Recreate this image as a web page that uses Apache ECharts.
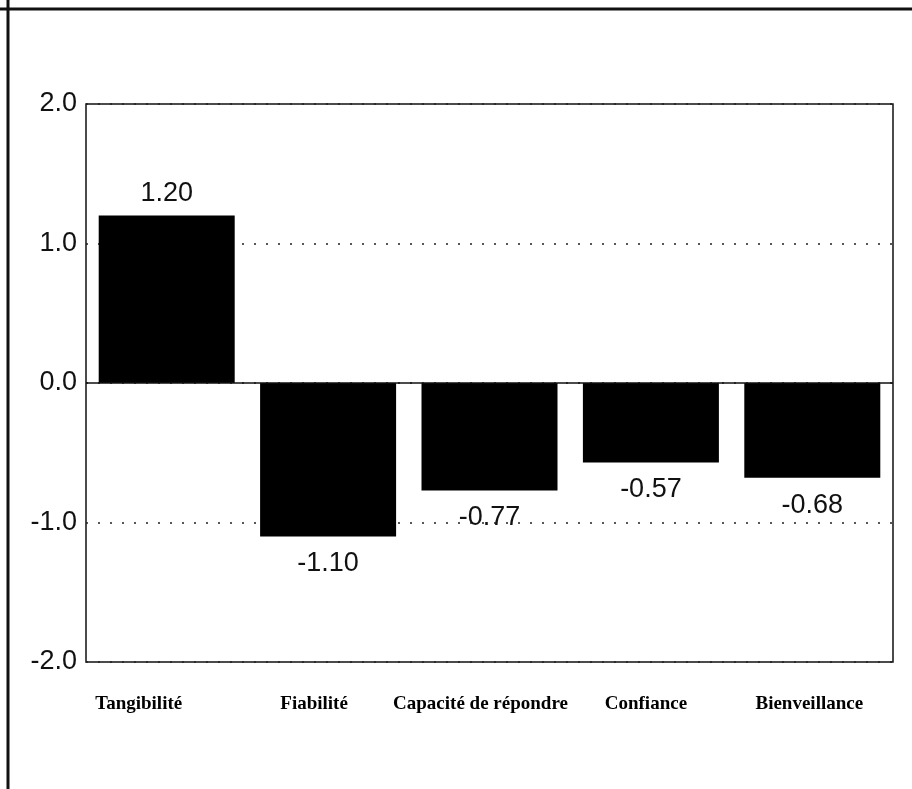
<!DOCTYPE html>
<html>
<head>
<meta charset="utf-8">
<script src="https://cdn.jsdelivr.net/npm/echarts@6/dist/echarts.min.js"></script>
<style>
  html, body { margin: 0; padding: 0; background: #fff; }
  #chart { width: 912px; height: 789px; }
</style>
</head>
<body>
<div id="chart"></div>
<script>
// ---- data ----
const categories = ['Tangibilité', 'Fiabilité', 'Capacité de répondre', 'Confiance', 'Bienveillance'];
const values = [1.20, -1.10, -0.77, -0.57, -0.68];
const yTicks = [-2, -1, 0, 1, 2];

// ---- layout (style only) ----
const labelShift = [56, 28, 18, 10, 6]; // right padding to nudge category labels left

const chart = echarts.init(document.getElementById('chart'), null, { renderer: 'canvas' });

const rich = {};
labelShift.forEach((s, i) => {
  rich['l' + i] = {
    fontFamily: '"Liberation Serif", "DejaVu Serif", serif',
    fontWeight: 'bold',
    fontSize: 19,
    color: '#000',
    padding: [0, s, 0, 0]
  };
});

const seriesData = values.map(v => ({
  value: v,
  label: {
    position: v >= 0 ? 'top' : 'bottom',
    distance: v >= 0 ? 9 : 14
  }
}));

chart.setOption({
  backgroundColor: '#fff',
  animation: false,
  grid: {
    left: 86, right: 19, top: 104, bottom: 127,
    show: true,
    borderColor: '#111',
    borderWidth: 1.5,
    backgroundColor: 'transparent'
  },
  xAxis: {
    type: 'category',
    data: categories,
    axisLine: { show: false },
    axisTick: { show: false },
    axisLabel: {
      margin: 33,
      interval: 0,
      formatter: (v, i) => '{l' + i + '|' + v + '}',
      rich: rich
    }
  },
  yAxis: {
    type: 'value',
    min: yTicks[0],
    max: yTicks[yTicks.length - 1],
    interval: 1,
    axisLine: { show: false },
    axisTick: { show: false },
    axisLabel: {
      margin: 9,
      formatter: v => v.toFixed(1),
      fontFamily: '"Liberation Sans", Arial, sans-serif',
      fontSize: 27,
      color: '#111'
    },
    splitLine: {
      show: true,
      lineStyle: { color: '#222', width: 1.6, type: [2, 10] }
    }
  },
  series: [{
    type: 'bar',
    data: seriesData,
    barWidth: 136,
    itemStyle: { color: '#000' },
    label: {
      show: true,
      formatter: p => p.value.toFixed(2),
      fontFamily: '"Liberation Sans", Arial, sans-serif',
      fontSize: 27,
      color: '#111'
    },
    markLine: {
      silent: true,
      symbol: 'none',
      label: { show: false },
      lineStyle: { color: '#111', width: 1.5, type: 'solid' },
      data: [{ yAxis: 0 }]
    }
  }],
  graphic: [
    { type: 'line', shape: { x1: 0, y1: 9, x2: 912, y2: 9 }, style: { stroke: '#111', lineWidth: 3 } },
    { type: 'line', shape: { x1: 8, y1: 0, x2: 8, y2: 789 }, style: { stroke: '#111', lineWidth: 3 } }
  ]
});
</script>
</body>
</html>
